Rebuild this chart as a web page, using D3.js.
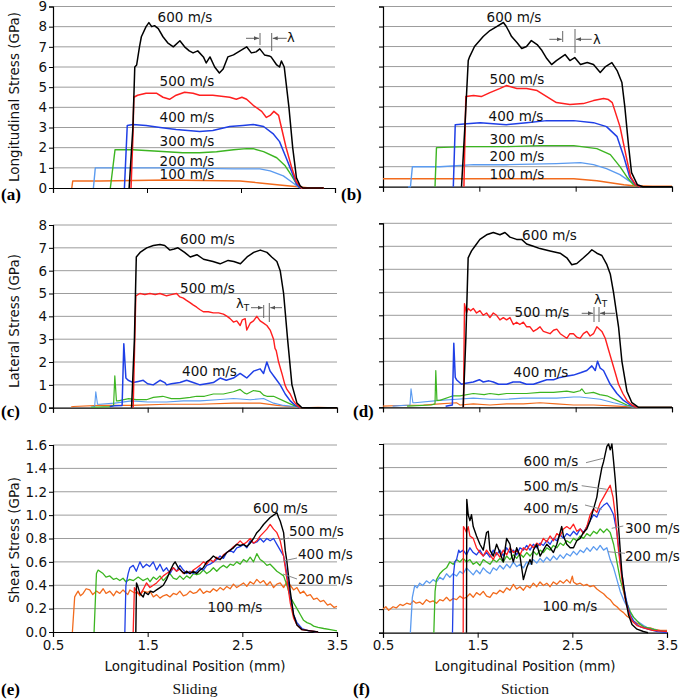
<!DOCTYPE html>
<html><head><meta charset="utf-8">
<script src="https://cdn.jsdelivr.net/npm/d3@7"></script>
<style>body{margin:0;background:#fff}svg{display:block}</style>
</head><body>
<svg id="chart" width="685" height="699"></svg>
<script>
// ---------------- DATA ----------------
const xTicks = [0.5, 1.5, 2.5, 3.5];
const speeds = ["100 m/s", "200 m/s", "300 m/s", "400 m/s", "500 m/s", "600 m/s"];
const yTicksLong = [0,1,2,3,4,5,6,7,8,9];
const yTicksLat = [0,1,2,3,4,5,6,7,8];
const yTicksShear = [0,0.2,0.4,0.6,0.8,1.0,1.2,1.4,1.6];

// (a) Longitudinal stress, sliding
const a600 = [[1.31,0],[1.35,3.0],[1.37,6.0],[1.39,6.1],[1.42,7.0],[1.44,7.5],[1.49,8.0],[1.52,8.2],[1.55,8.0],[1.58,8.05],[1.62,7.9],[1.67,7.5],[1.72,7.2],[1.78,7.0],[1.85,7.3],[1.90,7.0],[1.95,6.8],[1.99,6.7],[2.04,6.8],[2.10,6.5],[2.13,6.2],[2.17,6.5],[2.22,6.0],[2.27,5.7],[2.31,5.9],[2.36,6.5],[2.42,6.6],[2.49,6.8],[2.56,7.0],[2.61,6.7],[2.66,6.75],[2.70,6.9],[2.75,6.6],[2.80,6.55],[2.82,6.5],[2.88,6.1],[2.91,6.0],[2.93,6.3],[2.96,6.0],[2.985,5.0],[3.01,4.0],[3.05,2.0],[3.09,0.5],[3.13,0.1],[3.16,0],[3.38,0]];
const a500 = [[1.33,0],[1.35,2.5],[1.36,4.5],[1.40,4.6],[1.49,4.7],[1.60,4.7],[1.67,4.5],[1.74,4.4],[1.81,4.6],[1.90,4.75],[1.99,4.7],[2.06,4.6],[2.20,4.6],[2.38,4.5],[2.45,4.4],[2.51,4.5],[2.56,4.4],[2.63,4.1],[2.72,3.8],[2.77,3.5],[2.81,3.6],[2.85,3.8],[2.90,3.6],[2.93,3.0],[2.98,2.0],[3.04,1.0],[3.09,0.3],[3.145,0],[3.38,0]];
const a400 = [[1.26,0],[1.29,3.1],[1.35,3.15],[1.49,3.1],[1.64,3.0],[1.81,2.9],[2.06,2.8],[2.20,2.85],[2.38,3.05],[2.52,3.1],[2.63,3.15],[2.74,3.05],[2.84,2.7],[2.91,2.3],[2.98,1.5],[3.04,0.8],[3.09,0.2],[3.13,0]];
const a300 = [[1.11,0],[1.16,1.9],[1.35,1.9],[1.53,1.85],[1.71,1.8],[1.88,1.75],[2.06,1.75],[2.24,1.8],[2.42,1.9],[2.56,1.95],[2.63,1.95],[2.74,1.8],[2.88,1.5],[2.97,1.1],[3.04,0.6],[3.09,0.2],[3.13,0]];
const a200 = [[0.93,0],[0.95,1.0],[1.17,1.0],[1.71,1.0],[2.42,0.95],[2.70,0.95],[2.81,0.85],[2.95,0.6],[3.04,0.3],[3.11,0.05],[3.15,0]];
const a100 = [[0.70,0],[0.71,0.35],[1.0,0.35],[1.71,0.4],[2.49,0.35],[2.70,0.25],[2.91,0.15],[3.02,0.1],[3.13,0.05],[3.23,0],[3.38,0]];

// (b) Longitudinal stress, stiction
const b600 = [[1.315,0],[1.35,3.0],[1.385,6.3],[1.40,6.5],[1.45,7.0],[1.54,7.5],[1.61,7.8],[1.68,8.0],[1.75,8.2],[1.78,8.0],[1.835,7.5],[1.89,7.2],[1.94,6.9],[1.99,7.0],[2.04,7.3],[2.10,7.1],[2.15,6.8],[2.20,6.4],[2.25,6.1],[2.30,6.3],[2.36,6.5],[2.39,6.6],[2.44,6.3],[2.49,6.45],[2.55,6.1],[2.62,6.2],[2.685,6.1],[2.755,5.7],[2.81,6.0],[2.876,6.2],[2.93,5.8],[2.98,5.2],[3.01,4.0],[3.05,2.0],[3.08,0.7],[3.14,0.1],[3.20,0],[3.5,0]];
const b500 = [[1.34,0],[1.36,4.5],[1.44,4.55],[1.52,4.5],[1.61,4.7],[1.71,4.9],[1.78,5.05],[1.89,4.9],[1.99,4.9],[2.10,4.8],[2.20,4.5],[2.30,4.2],[2.44,4.1],[2.58,4.15],[2.685,4.3],[2.79,4.4],[2.84,4.35],[2.88,4.2],[2.96,3.0],[3.025,1.5],[3.07,0.5],[3.12,0.1],[3.17,0]];
const b400 = [[1.23,0],[1.25,3.1],[1.37,3.15],[1.51,3.2],[1.78,3.1],[1.99,3.2],[2.20,3.3],[2.48,3.3],[2.685,3.2],[2.82,3.0],[2.93,2.5],[3.0,1.5],[3.06,0.5],[3.12,0.1],[3.17,0]];
const b300 = [[1.04,0],[1.055,1.95],[1.37,2.0],[1.78,2.0],[2.13,2.05],[2.48,2.05],[2.72,1.9],[2.86,1.6],[2.96,1.0],[3.03,0.5],[3.10,0.1],[3.15,0]];
const b200 = [[0.76,0],[0.785,0],[0.805,1.0],[1.09,1.0],[1.44,1.1],[1.78,1.1],[2.30,1.15],[2.55,1.2],[2.685,1.1],[2.82,0.9],[2.96,0.6],[3.05,0.3],[3.14,0.05],[3.17,0]];
const b100 = [[0.5,0.4],[1.09,0.4],[1.78,0.4],[2.48,0.4],[2.72,0.3],[2.86,0.2],[3.0,0.1],[3.10,0.05],[3.3,0.02],[3.5,0.02]];

// (c) Lateral stress, sliding
const c600 = [[1.33,0],[1.36,3.0],[1.38,6.6],[1.42,6.8],[1.49,7.0],[1.56,7.1],[1.63,7.15],[1.68,7.1],[1.735,6.9],[1.78,6.95],[1.82,7.0],[1.89,6.8],[1.95,6.6],[2.02,6.7],[2.09,6.5],[2.19,6.4],[2.265,6.3],[2.35,6.45],[2.41,6.4],[2.48,6.3],[2.55,6.6],[2.62,6.8],[2.69,6.9],[2.76,6.8],[2.81,6.6],[2.865,6.4],[2.90,6.0],[2.936,5.0],[2.978,3.0],[3.024,1.0],[3.077,0.2],[3.13,0],[3.5,0]];
const c500 = [[1.347,0],[1.375,4.9],[1.418,5.0],[1.47,4.95],[1.524,5.0],[1.58,4.95],[1.63,5.0],[1.70,4.9],[1.75,4.95],[1.806,5.0],[1.84,4.85],[1.877,4.8],[1.91,4.7],[1.947,4.6],[1.98,4.5],[2.018,4.4],[2.05,4.3],[2.088,4.2],[2.14,4.2],[2.194,4.15],[2.25,4.15],[2.30,4.1],[2.34,4.0],[2.371,3.9],[2.406,3.75],[2.441,3.8],[2.477,3.6],[2.50,3.85],[2.53,3.9],[2.547,3.4],[2.583,3.7],[2.618,3.8],[2.653,4.0],[2.688,3.8],[2.724,3.7],[2.759,3.6],[2.794,3.4],[2.83,3.0],[2.845,2.6],[2.858,2.5],[2.883,2.0],[2.918,1.5],[2.95,1.0],[2.971,0.8],[3.006,0.6],[3.041,0.3],[3.077,0.1],[3.112,0]];
const c400 = [[1.10,0.05],[1.15,0.08],[1.23,0.1],[1.248,2.8],[1.27,1.3],[1.294,1.2],[1.347,1.1],[1.40,1.15],[1.453,1.2],[1.50,1.05],[1.559,1.0],[1.63,1.2],[1.68,1.1],[1.70,1.0],[1.75,1.05],[1.841,1.1],[1.912,1.2],[1.98,1.1],[2.053,1.0],[2.12,1.05],[2.194,1.1],[2.265,1.3],[2.33,1.2],[2.406,1.3],[2.477,1.5],[2.53,1.35],[2.547,1.3],[2.618,1.6],[2.688,1.7],[2.724,1.5],[2.759,2.0],[2.794,1.6],[2.847,1.3],[2.90,1.0],[2.953,0.6],[3.006,0.3],[3.059,0.1],[3.112,0]];
const c300 = [[0.90,0.02],[1.10,0.05],[1.14,0.1],[1.153,1.4],[1.17,0.3],[1.188,0.3],[1.30,0.4],[1.38,0.35],[1.488,0.35],[1.56,0.45],[1.66,0.5],[1.75,0.4],[1.841,0.4],[1.95,0.45],[2.018,0.5],[2.10,0.5],[2.194,0.6],[2.30,0.6],[2.406,0.7],[2.477,0.8],[2.52,0.65],[2.547,0.6],[2.618,0.75],[2.688,0.7],[2.724,0.55],[2.759,0.5],[2.83,0.5],[2.936,0.3],[3.041,0.1],[3.112,0]];
const c200 = [[0.90,0.02],[0.94,0.05],[0.952,0.7],[0.97,0.15],[0.994,0.15],[1.153,0.2],[1.33,0.3],[1.50,0.25],[1.70,0.25],[1.877,0.3],[2.053,0.3],[2.23,0.35],[2.406,0.4],[2.583,0.35],[2.724,0.4],[2.83,0.2],[2.936,0.1],[3.041,0.05],[3.112,0]];
const c100 = [[0.69,0.03],[0.712,0.05],[0.994,0.1],[1.33,0.1],[1.70,0.15],[2.053,0.15],[2.406,0.2],[2.688,0.2],[2.865,0.1],[3.006,0.05],[3.112,0],[3.3,0.02],[3.5,0]];

// (d) Lateral stress, stiction
const d600 = [[1.332,0],[1.36,3.0],[1.384,6.5],[1.419,6.8],[1.454,7.0],[1.506,7.3],[1.575,7.5],[1.645,7.6],[1.714,7.5],[1.766,7.6],[1.818,7.4],[1.887,7.3],[1.939,7.3],[1.991,7.1],[2.061,7.0],[2.130,6.9],[2.234,6.8],[2.338,6.7],[2.408,6.5],[2.460,6.2],[2.512,6.25],[2.581,6.5],[2.633,6.7],[2.668,6.85],[2.720,6.7],[2.772,6.6],[2.824,6.2],[2.859,5.8],[2.893,5.0],[2.945,3.5],[2.980,2.0],[3.032,0.7],[3.084,0.2],[3.153,0],[3.5,0]];
const d500 = [[1.335,0],[1.346,4.5],[1.367,4.1],[1.384,4.3],[1.41,4.2],[1.437,4.3],[1.471,4.1],[1.506,4.2],[1.541,4.0],[1.575,4.1],[1.610,3.9],[1.645,4.1],[1.679,4.0],[1.714,3.8],[1.749,3.9],[1.783,3.8],[1.818,3.9],[1.853,3.6],[1.887,3.7],[1.92,3.6],[1.957,3.7],[1.991,3.5],[2.026,3.5],[2.061,3.3],[2.10,3.4],[2.130,3.5],[2.165,3.3],[2.234,3.2],[2.27,3.35],[2.304,3.4],[2.34,3.2],[2.408,3.0],[2.44,3.2],[2.477,3.2],[2.512,3.05],[2.546,3.0],[2.58,3.2],[2.616,3.3],[2.65,3.1],[2.685,3.2],[2.720,3.5],[2.772,3.3],[2.807,3.0],[2.841,2.5],[2.876,2.0],[2.911,1.5],[2.945,1.0],[2.990,0.6],[3.032,0.3],[3.084,0.1],[3.136,0]];
const d400 = [[1.15,0.05],[1.22,0.1],[1.235,2.78],[1.25,1.3],[1.263,1.2],[1.315,1.0],[1.36,1.05],[1.437,1.1],[1.50,1.2],[1.541,1.1],[1.60,1.15],[1.645,1.1],[1.70,1.0],[1.783,1.0],[1.85,1.1],[1.922,1.1],[1.99,1.0],[2.061,1.0],[2.13,1.1],[2.200,1.2],[2.27,1.2],[2.338,1.3],[2.40,1.35],[2.477,1.4],[2.55,1.5],[2.616,1.6],[2.668,1.8],[2.703,1.6],[2.727,2.0],[2.755,1.7],[2.789,1.6],[2.859,1.0],[2.928,0.6],[2.997,0.3],[3.067,0.1],[3.136,0]];
const d300 = [[0.75,0.05],[1.00,0.1],[1.04,0.15],[1.048,1.6],[1.06,0.3],[1.090,0.3],[1.228,0.5],[1.30,0.5],[1.437,0.6],[1.55,0.55],[1.61,0.6],[1.70,0.55],[1.783,0.6],[1.90,0.6],[1.991,0.6],[2.13,0.65],[2.27,0.65],[2.408,0.7],[2.48,0.65],[2.546,0.72],[2.564,0.8],[2.60,0.6],[2.685,0.65],[2.75,0.55],[2.824,0.5],[2.928,0.3],[3.032,0.1],[3.136,0]];
const d200 = [[0.6,0.05],[0.78,0.1],[0.791,0.8],[0.81,0.2],[0.830,0.2],[1.090,0.3],[1.263,0.35],[1.437,0.4],[1.61,0.35],[1.783,0.35],[1.95,0.4],[2.13,0.4],[2.304,0.4],[2.477,0.45],[2.546,0.45],[2.755,0.35],[2.893,0.2],[2.997,0.1],[3.101,0]];
const d100 = [[0.5,0.05],[0.67,0.08],[0.92,0.1],[1.09,0.15],[1.263,0.2],[1.30,0.1],[1.437,0.15],[1.61,0.1],[1.783,0.15],[1.957,0.15],[2.130,0.2],[2.30,0.15],[2.477,0.1],[2.685,0.1],[2.928,0.05],[3.17,0],[3.5,0]];

// (e) Shear stress, sliding
const e100 = [[0.705,0],[0.729,0.3],[0.75,0.33],[0.765,0.35],[0.79,0.31],[0.818,0.33],[0.85,0.37],[0.888,0.36],[0.92,0.32],[0.96,0.35],[0.994,0.33],[1.03,0.37],[1.06,0.33],[1.100,0.35],[1.14,0.31],[1.17,0.35],[1.206,0.33],[1.24,0.36],[1.29,0.32],[1.312,0.36],[1.35,0.34],[1.40,0.33],[1.418,0.31],[1.45,0.35],[1.50,0.34],[1.524,0.35],[1.56,0.3],[1.594,0.32],[1.63,0.29],[1.665,0.31],[1.70,0.32],[1.735,0.3],[1.771,0.33],[1.806,0.32],[1.84,0.35],[1.877,0.31],[1.912,0.32],[1.947,0.35],[1.983,0.33],[2.018,0.34],[2.053,0.37],[2.088,0.33],[2.124,0.35],[2.159,0.34],[2.194,0.37],[2.23,0.35],[2.265,0.38],[2.30,0.36],[2.336,0.39],[2.371,0.37],[2.406,0.41],[2.441,0.38],[2.477,0.4],[2.512,0.42],[2.547,0.39],[2.583,0.43],[2.618,0.41],[2.653,0.45],[2.688,0.42],[2.724,0.44],[2.759,0.4],[2.794,0.43],[2.83,0.38],[2.865,0.41],[2.90,0.42],[2.936,0.38],[2.971,0.43],[3.006,0.4],[3.041,0.36],[3.077,0.38],[3.112,0.33],[3.147,0.35],[3.183,0.31],[3.218,0.32],[3.253,0.28],[3.289,0.29],[3.324,0.26],[3.359,0.27],[3.40,0.23],[3.43,0.24],[3.47,0.21],[3.5,0.22]];
const e300 = [[0.934,0],[0.959,0.5],[0.977,0.53],[0.994,0.52],[1.029,0.5],[1.06,0.47],[1.10,0.48],[1.14,0.45],[1.17,0.46],[1.206,0.44],[1.24,0.46],[1.27,0.43],[1.31,0.45],[1.35,0.44],[1.40,0.47],[1.45,0.44],[1.50,0.46],[1.524,0.43],[1.56,0.47],[1.594,0.45],[1.63,0.48],[1.665,0.44],[1.70,0.47],[1.735,0.5],[1.771,0.46],[1.806,0.45],[1.84,0.48],[1.877,0.45],[1.912,0.48],[1.947,0.46],[1.983,0.5],[2.018,0.49],[2.053,0.5],[2.088,0.53],[2.124,0.5],[2.159,0.52],[2.194,0.55],[2.23,0.52],[2.265,0.55],[2.30,0.57],[2.336,0.55],[2.371,0.58],[2.406,0.57],[2.441,0.6],[2.477,0.58],[2.512,0.62],[2.547,0.6],[2.583,0.64],[2.618,0.6],[2.653,0.67],[2.688,0.62],[2.724,0.6],[2.759,0.57],[2.794,0.58],[2.83,0.55],[2.865,0.52],[2.90,0.5],[2.936,0.48],[2.971,0.4],[3.006,0.3],[3.041,0.25],[3.077,0.2],[3.112,0.15],[3.147,0.1],[3.183,0.08],[3.218,0.07],[3.253,0.05],[3.3,0.04],[3.36,0.03],[3.43,0.02],[3.5,0.01]];
const e400 = [[1.259,0],[1.27,0.4],[1.294,0.5],[1.312,0.55],[1.347,0.57],[1.38,0.52],[1.418,0.6],[1.45,0.55],[1.488,0.58],[1.52,0.56],[1.559,0.6],[1.594,0.53],[1.63,0.58],[1.665,0.52],[1.70,0.55],[1.735,0.5],[1.771,0.55],[1.806,0.52],[1.841,0.57],[1.877,0.53],[1.912,0.5],[1.947,0.52],[1.983,0.5],[2.018,0.52],[2.053,0.55],[2.088,0.53],[2.124,0.57],[2.159,0.58],[2.194,0.6],[2.23,0.62],[2.265,0.65],[2.30,0.63],[2.336,0.68],[2.371,0.7],[2.406,0.68],[2.441,0.72],[2.477,0.73],[2.512,0.75],[2.547,0.72],[2.583,0.78],[2.618,0.76],[2.653,0.77],[2.688,0.8],[2.724,0.77],[2.759,0.8],[2.794,0.78],[2.83,0.8],[2.865,0.75],[2.90,0.7],[2.936,0.65],[2.971,0.5],[3.006,0.3],[3.041,0.15],[3.077,0.08],[3.13,0.03],[3.2,0.01],[3.3,0]];
const e500 = [[1.347,0],[1.36,0.38],[1.382,0.35],[1.418,0.32],[1.45,0.36],[1.488,0.42],[1.506,0.4],[1.524,0.38],[1.559,0.4],[1.594,0.42],[1.63,0.45],[1.665,0.48],[1.70,0.5],[1.735,0.52],[1.771,0.55],[1.806,0.52],[1.841,0.54],[1.877,0.5],[1.912,0.52],[1.947,0.5],[1.983,0.53],[2.018,0.55],[2.053,0.57],[2.088,0.6],[2.124,0.58],[2.159,0.62],[2.194,0.6],[2.23,0.64],[2.265,0.62],[2.30,0.66],[2.336,0.68],[2.371,0.7],[2.406,0.73],[2.441,0.75],[2.477,0.78],[2.512,0.75],[2.547,0.77],[2.583,0.8],[2.618,0.76],[2.653,0.78],[2.688,0.82],[2.724,0.85],[2.759,0.88],[2.794,0.92],[2.83,0.88],[2.865,0.85],[2.90,0.78],[2.936,0.65],[2.971,0.45],[3.006,0.25],[3.041,0.12],[3.077,0.06],[3.13,0.02],[3.22,0.01],[3.3,0]];
const e600 = [[1.375,0],[1.382,0.42],[1.40,0.38],[1.418,0.33],[1.453,0.3],[1.47,0.34],[1.506,0.32],[1.53,0.35],[1.559,0.34],[1.594,0.36],[1.63,0.38],[1.665,0.4],[1.70,0.45],[1.735,0.52],[1.771,0.58],[1.79,0.6],[1.824,0.55],[1.86,0.52],[1.89,0.5],[1.912,0.52],[1.947,0.5],[1.983,0.52],[2.018,0.5],[2.053,0.53],[2.088,0.55],[2.124,0.6],[2.159,0.62],[2.194,0.65],[2.23,0.63],[2.265,0.62],[2.30,0.65],[2.336,0.68],[2.371,0.7],[2.406,0.72],[2.441,0.75],[2.477,0.74],[2.512,0.75],[2.547,0.73],[2.583,0.76],[2.618,0.8],[2.653,0.85],[2.688,0.88],[2.724,0.92],[2.759,0.95],[2.794,0.98],[2.83,1.0],[2.865,1.02],[2.883,0.98],[2.90,0.95],[2.936,0.85],[2.953,0.7],[2.971,0.6],[3.006,0.35],[3.041,0.15],[3.077,0.06],[3.13,0.02],[3.22,0.01],[3.3,0]];

// (f) Shear stress, stiction
const f100 = [[0.5,0.2],[0.53,0.22],[0.56,0.19],[0.606,0.22],[0.64,0.21],[0.68,0.24],[0.712,0.23],[0.75,0.25],[0.789,0.24],[0.818,0.27],[0.85,0.25],[0.888,0.26],[0.92,0.24],[0.959,0.28],[0.994,0.26],[1.029,0.27],[1.065,0.25],[1.10,0.28],[1.135,0.27],[1.171,0.3],[1.206,0.27],[1.241,0.29],[1.277,0.28],[1.312,0.31],[1.347,0.29],[1.382,0.3],[1.418,0.33],[1.453,0.3],[1.488,0.34],[1.524,0.32],[1.559,0.35],[1.594,0.31],[1.63,0.3],[1.665,0.34],[1.70,0.33],[1.735,0.36],[1.771,0.34],[1.806,0.38],[1.841,0.36],[1.877,0.41],[1.912,0.37],[1.947,0.39],[1.983,0.36],[2.018,0.4],[2.053,0.38],[2.088,0.42],[2.124,0.39],[2.159,0.43],[2.194,0.4],[2.23,0.42],[2.265,0.39],[2.30,0.43],[2.336,0.41],[2.371,0.44],[2.406,0.42],[2.441,0.45],[2.477,0.42],[2.5,0.48],[2.512,0.43],[2.547,0.41],[2.583,0.42],[2.618,0.4],[2.653,0.41],[2.688,0.39],[2.724,0.4],[2.759,0.37],[2.794,0.35],[2.83,0.33],[2.865,0.3],[2.90,0.28],[2.936,0.24],[2.971,0.22],[3.006,0.19],[3.041,0.17],[3.077,0.14],[3.112,0.12],[3.147,0.1],[3.183,0.08],[3.218,0.07],[3.253,0.05],[3.289,0.04],[3.324,0.04],[3.36,0.03],[3.43,0.02],[3.5,0.02]];
const f200 = [[0.789,0],[0.81,0.3],[0.835,0.4],[0.86,0.38],[0.888,0.42],[0.92,0.4],[0.959,0.44],[0.994,0.42],[1.029,0.45],[1.065,0.43],[1.10,0.47],[1.135,0.45],[1.171,0.5],[1.206,0.47],[1.241,0.5],[1.277,0.48],[1.312,0.52],[1.347,0.5],[1.382,0.55],[1.418,0.52],[1.453,0.49],[1.488,0.53],[1.524,0.5],[1.559,0.55],[1.594,0.52],[1.63,0.5],[1.665,0.55],[1.70,0.53],[1.735,0.57],[1.771,0.54],[1.806,0.58],[1.841,0.55],[1.877,0.6],[1.912,0.56],[1.947,0.58],[1.983,0.55],[2.018,0.6],[2.053,0.58],[2.088,0.62],[2.124,0.59],[2.159,0.63],[2.194,0.6],[2.23,0.64],[2.265,0.61],[2.30,0.65],[2.336,0.62],[2.371,0.66],[2.406,0.63],[2.441,0.67],[2.477,0.65],[2.512,0.69],[2.547,0.66],[2.583,0.7],[2.618,0.68],[2.653,0.72],[2.688,0.69],[2.724,0.73],[2.759,0.7],[2.794,0.74],[2.83,0.7],[2.865,0.72],[2.90,0.62],[2.936,0.55],[2.971,0.45],[3.006,0.35],[3.041,0.28],[3.077,0.22],[3.112,0.17],[3.147,0.13],[3.183,0.1],[3.218,0.08],[3.253,0.06],[3.3,0.04],[3.4,0.02],[3.5,0.01]];
const f300 = [[1.037,0],[1.05,0.35],[1.065,0.45],[1.10,0.5],[1.135,0.53],[1.171,0.55],[1.206,0.6],[1.241,0.58],[1.277,0.62],[1.312,0.6],[1.347,0.63],[1.382,0.6],[1.418,0.62],[1.453,0.58],[1.488,0.6],[1.524,0.57],[1.559,0.62],[1.594,0.6],[1.63,0.58],[1.665,0.62],[1.70,0.6],[1.735,0.63],[1.771,0.6],[1.806,0.65],[1.841,0.62],[1.877,0.66],[1.912,0.63],[1.947,0.67],[1.983,0.64],[2.018,0.68],[2.053,0.65],[2.088,0.69],[2.124,0.66],[2.159,0.7],[2.194,0.68],[2.23,0.72],[2.265,0.7],[2.30,0.74],[2.336,0.72],[2.371,0.76],[2.406,0.74],[2.441,0.78],[2.477,0.76],[2.512,0.8],[2.547,0.78],[2.583,0.82],[2.618,0.8],[2.653,0.84],[2.688,0.82],[2.724,0.86],[2.759,0.84],[2.794,0.88],[2.83,0.85],[2.865,0.88],[2.90,0.85],[2.936,0.75],[2.971,0.6],[3.006,0.45],[3.041,0.35],[3.077,0.25],[3.112,0.18],[3.147,0.13],[3.183,0.1],[3.218,0.07],[3.253,0.05],[3.3,0.04],[3.4,0.02],[3.5,0.01]];
const f400 = [[1.234,0],[1.245,0.5],[1.259,0.6],[1.277,0.62],[1.30,0.7],[1.312,0.68],[1.347,0.7],[1.382,0.66],[1.418,0.72],[1.453,0.68],[1.488,0.66],[1.524,0.7],[1.559,0.65],[1.594,0.68],[1.63,0.64],[1.665,0.7],[1.70,0.66],[1.735,0.7],[1.771,0.65],[1.806,0.72],[1.841,0.68],[1.877,0.7],[1.912,0.66],[1.947,0.72],[1.983,0.7],[2.018,0.74],[2.053,0.7],[2.088,0.75],[2.124,0.72],[2.159,0.76],[2.194,0.74],[2.23,0.78],[2.265,0.75],[2.30,0.8],[2.336,0.78],[2.371,0.83],[2.406,0.8],[2.441,0.84],[2.477,0.82],[2.512,0.86],[2.547,0.83],[2.583,0.88],[2.618,0.85],[2.653,0.9],[2.688,0.95],[2.724,1.0],[2.759,0.98],[2.794,1.05],[2.83,1.08],[2.865,1.1],[2.90,1.06],[2.936,1.0],[2.971,0.85],[3.006,0.6],[3.041,0.4],[3.077,0.25],[3.112,0.15],[3.147,0.1],[3.183,0.07],[3.218,0.05],[3.3,0.03],[3.4,0.01],[3.5,0]];
const f500 = [[1.347,0],[1.35,0.9],[1.365,0.88],[1.382,0.85],[1.40,0.9],[1.418,0.82],[1.453,0.8],[1.488,0.72],[1.524,0.68],[1.559,0.65],[1.594,0.7],[1.63,0.66],[1.665,0.62],[1.70,0.68],[1.735,0.64],[1.771,0.7],[1.806,0.66],[1.841,0.72],[1.877,0.68],[1.912,0.7],[1.947,0.66],[1.983,0.72],[2.018,0.7],[2.053,0.75],[2.088,0.72],[2.124,0.76],[2.159,0.74],[2.194,0.8],[2.23,0.77],[2.265,0.82],[2.30,0.78],[2.336,0.84],[2.371,0.82],[2.406,0.88],[2.441,0.9],[2.477,0.88],[2.512,0.92],[2.547,0.86],[2.583,0.88],[2.618,0.84],[2.653,0.9],[2.688,1.0],[2.724,1.05],[2.759,1.02],[2.794,1.1],[2.83,1.15],[2.865,1.2],[2.90,1.25],[2.93,1.15],[2.953,1.0],[2.988,0.7],[3.024,0.45],[3.059,0.28],[3.094,0.18],[3.13,0.1],[3.183,0.06],[3.253,0.04],[3.35,0.02],[3.5,0.01]];
const f600 = [[1.382,0],[1.385,1.13],[1.40,1.0],[1.418,0.95],[1.435,1.0],[1.453,0.9],[1.488,0.82],[1.524,0.75],[1.559,0.7],[1.594,0.85],[1.612,0.86],[1.63,0.7],[1.665,0.65],[1.70,0.75],[1.735,0.68],[1.771,0.6],[1.806,0.8],[1.841,0.75],[1.859,0.65],[1.877,0.6],[1.912,0.72],[1.947,0.65],[1.965,0.55],[1.983,0.45],[2.018,0.55],[2.053,0.62],[2.071,0.58],[2.088,0.7],[2.124,0.75],[2.159,0.65],[2.194,0.7],[2.23,0.75],[2.265,0.72],[2.30,0.68],[2.336,0.75],[2.371,0.85],[2.388,0.9],[2.406,0.82],[2.441,0.75],[2.477,0.72],[2.512,0.72],[2.547,0.78],[2.583,0.8],[2.618,0.85],[2.653,0.88],[2.688,0.95],[2.724,1.05],[2.759,1.15],[2.777,1.25],[2.812,1.4],[2.83,1.45],[2.865,1.58],[2.883,1.6],[2.90,1.55],[2.918,1.6],[2.936,1.45],[2.953,1.3],[2.971,1.1],[2.988,0.9],[3.006,0.7],[3.024,0.5],[3.059,0.3],[3.094,0.15],[3.13,0.07],[3.183,0.03],[3.25,0.01],[3.3,0]];

// ---------------- LAYOUT / STYLE ----------------
const FONT = "'DejaVu Sans', Verdana, sans-serif";
const SERIF = "'Liberation Serif', 'Times New Roman', serif";
const seriesColors = ["#f26b1d", "#5b9bf0", "#3cb521", "#1f3fe6", "#ff1f1f", "#000000"];

const panels = [
  {tag:"(a)", tagX:1, tagY:200, l:53, r:335, t:6.5, b:188, yt:yTicksLong, fmt:"d", showY:true, showX:false,
   title:"Longitudinal Stress (GPa)", titleY:97, data:[a100,a200,a300,a400,a500,a600], widths:[1.4,1.4,1.4,1.5,1.5,1.5],
   labels:[[5,185,22,"middle"],[4,187,86,"middle"],[3,187,122,"middle"],[2,187,146,"middle"],[1,187,166,"middle"],[0,187,179,"middle"]]},
  {tag:"(b)", tagX:341, tagY:200, l:383, r:672, t:6.5, b:186.7, yt:yTicksLong, fmt:"d", showY:false, showX:false,
   data:[b100,b200,b300,b400,b500,b600], widths:[1.4,1.4,1.4,1.5,1.5,1.5],
   labels:[[5,514,22,"middle"],[4,517,84,"middle"],[3,516,121,"middle"],[2,517,144,"middle"],[1,517,161,"middle"],[0,517,179,"middle"]]},
  {tag:"(c)", tagX:1, tagY:417, l:53, r:337, t:225, b:407.7, yt:yTicksLat, fmt:"d", showY:true, showX:false,
   title:"Lateral Stress (GPa)", titleY:321, data:[c100,c200,c300,c400,c500,c600], widths:[1.1,1.1,1.2,1.5,1.4,1.5],
   labels:[[5,207.5,244,"middle"],[4,207.5,293,"middle"],[3,209.5,376,"middle"]]},
  {tag:"(d)", tagX:353, tagY:417, l:383, r:672, t:223.3, b:407.3, yt:yTicksLat, fmt:"d", showY:false, showX:false,
   data:[d100,d200,d300,d400,d500,d600], widths:[1.1,1.1,1.2,1.5,1.4,1.5],
   labels:[[5,549.5,240,"middle"],[4,542,316.7,"middle"],[3,541,376.7,"middle"]]},
  {tag:"(e)", tagX:1, tagY:695, l:53, r:337, t:445, b:632, yt:yTicksShear, fmt:".1f", showY:true, showX:true,
   title:"Shear Stress (GPa)", titleY:540, sub:"Sliding", data:[e100,e300,e400,e500,e600], colorIdx:[0,2,3,4,5], widths:[1.3,1.3,1.3,1.3,1.4],
   labels:[[5,280.5,513,"middle"],[4,289,535.5,"start"],[3,298,559,"start"],[1,298,584,"start"],[0,235,612,"middle"]],
   leaders:[[279,540,289,538],[283,561,297,558],[283,574,297,579]]},
  {tag:"(f)", tagX:353, tagY:695, l:383, r:667, t:444, b:632.7, yt:yTicksShear, fmt:".1f", showY:false, showX:true,
   sub:"Stiction", data:[f100,f200,f300,f400,f500,f600], widths:[1.3,1.3,1.3,1.3,1.3,1.4],
   labels:[[5,551,466,"middle"],[4,551,491,"middle"],[3,551,513,"middle"],[2,625,533,"start"],[1,625,561,"start"],[0,570,611,"middle"]],
   leaders:[[586,462.7,603.3,458.3],[581.7,485.7,606.7,489.3],[585,505,601.7,509.3],[611.7,528.3,623.3,526],[608,551.7,625,553.3]]}
];

// ---------------- DRAW ----------------
const svg = d3.select("#chart");
const defs = svg.append("defs");
defs.append("marker").attr("id","arr").attr("viewBox","0 0 10 10").attr("refX",10).attr("refY",5)
  .attr("markerWidth",5).attr("markerHeight",5).attr("orient","auto-start-reverse")
  .append("path").attr("d","M0,1 L10,5 L0,9 z").attr("fill","#555");

panels.forEach(p => {
  const x = d3.scaleLinear().domain([0.5, 3.5]).range([p.l, p.r]);
  const yMax = p.yt[p.yt.length-1];
  const y = d3.scaleLinear().domain([0, yMax]).range([p.b, p.t]);
  const g = svg.append("g");

  // gridlines
  g.append("g").selectAll("line").data(p.yt.slice(1)).join("line")
    .attr("x1", p.l).attr("x2", p.r).attr("y1", d => y(d)).attr("y2", d => y(d))
    .attr("stroke", "#9c9c9c").attr("stroke-width", 1);

  // y axis
  const ya = g.append("g").attr("transform", `translate(${p.l},0)`)
    .call(d3.axisLeft(y).tickValues(p.yt).tickSize(4).tickPadding(2)
      .tickFormat(p.showY ? d3.format(p.fmt) : ""));
  // x axis
  const xa = g.append("g").attr("transform", `translate(0,${p.b})`)
    .call(d3.axisBottom(x).tickValues(xTicks).tickSize(5).tickPadding(3)
      .tickFormat(p.showX ? d3.format(".1f") : ""));
  [ya, xa].forEach(a => {
    a.select(".domain").attr("stroke", "#000").attr("stroke-width", 1.2);
    a.selectAll(".tick line").attr("stroke", "#000");
    a.selectAll("text").attr("font-family", FONT).attr("font-size", 13.5).attr("fill", "#111");
  });

  // series
  const line = d3.line().x(d => x(d[0])).y(d => y(d[1]));
  const cIdx = p.colorIdx || [0,1,2,3,4,5];
  p.data.forEach((s, i) => {
    g.append("path").attr("d", line(s)).attr("fill", "none")
      .attr("stroke", seriesColors[cIdx[i]]).attr("stroke-width", p.widths[i])
      .attr("stroke-linejoin", "round");
  });

  // leader lines
  (p.leaders || []).forEach(L => {
    g.append("line").attr("x1", L[0]).attr("y1", L[1]).attr("x2", L[2]).attr("y2", L[3])
      .attr("stroke", "#8a8a8a").attr("stroke-width", 1);
  });

  // series labels
  p.labels.forEach(L => {
    g.append("text").attr("x", L[1]).attr("y", L[2]).attr("text-anchor", L[3])
      .attr("font-family", FONT).attr("font-size", 13.5).attr("fill", "#111").text(speeds[L[0]]);
  });

  // panel tag
  svg.append("text").attr("x", p.tagX).attr("y", p.tagY).attr("font-family", SERIF)
    .attr("font-weight", "bold").attr("font-size", 17).attr("fill", "#000").text(p.tag);

  // y title
  if (p.title) {
    svg.append("text").attr("transform", `translate(19,${p.titleY}) rotate(-90)`)
      .attr("text-anchor", "middle").attr("font-family", FONT).attr("font-size", 13.5)
      .attr("fill", "#111").text(p.title);
  }
  // x title + sub caption
  if (p.showX) {
    const cx = (p.l + p.r) / 2 + 0;
    svg.append("text").attr("x", cx).attr("y", 671).attr("text-anchor", "middle")
      .attr("font-family", FONT).attr("font-size", 13.5).attr("fill", "#111").text("Longitudinal Position (mm)");
    svg.append("text").attr("x", cx).attr("y", 694).attr("text-anchor", "middle")
      .attr("font-family", SERIF).attr("font-size", 15.5).attr("fill", "#111").text(p.sub);
  }
});

// wavelength annotations
function lambdaMark(v1, v2, yA, arrowL, arrowR, labX, labY, sub) {
  const g = svg.append("g").attr("stroke", "#666").attr("stroke-width", 1);
  g.append("line").attr("x1", v1[0]).attr("x2", v1[0]).attr("y1", v1[1]).attr("y2", v1[2]);
  g.append("line").attr("x1", v2[0]).attr("x2", v2[0]).attr("y1", v2[1]).attr("y2", v2[2]);
  g.append("line").attr("x1", arrowL).attr("x2", v1[0] - 1).attr("y1", yA).attr("y2", yA).attr("marker-end", "url(#arr)");
  g.append("line").attr("x1", arrowR).attr("x2", v2[0] + 1).attr("y1", yA).attr("y2", yA).attr("marker-end", "url(#arr)");
  const t = svg.append("text").attr("x", labX).attr("y", labY).attr("font-family", FONT)
    .attr("font-size", 13).attr("fill", "#111").text("λ");
  if (sub) t.append("tspan").attr("font-size", 9).attr("dy", 3).text(sub);
}
lambdaMark([260, 33, 45], [271.7, 33, 51], 38.3, 246, 286.7, 287, 42, null);
lambdaMark([562.7, 31, 42], [575, 29, 53], 39.3, 549.3, 591.7, 593, 44, null);
lambdaMark([263.7, 305, 318], [269.3, 303, 322], 307.7, 251, 282, 236, 308, "T");
lambdaMark([594, 307, 322], [599, 307, 322], 313.3, 581.7, 615, 594, 304, "T");
</script>
</body></html>
